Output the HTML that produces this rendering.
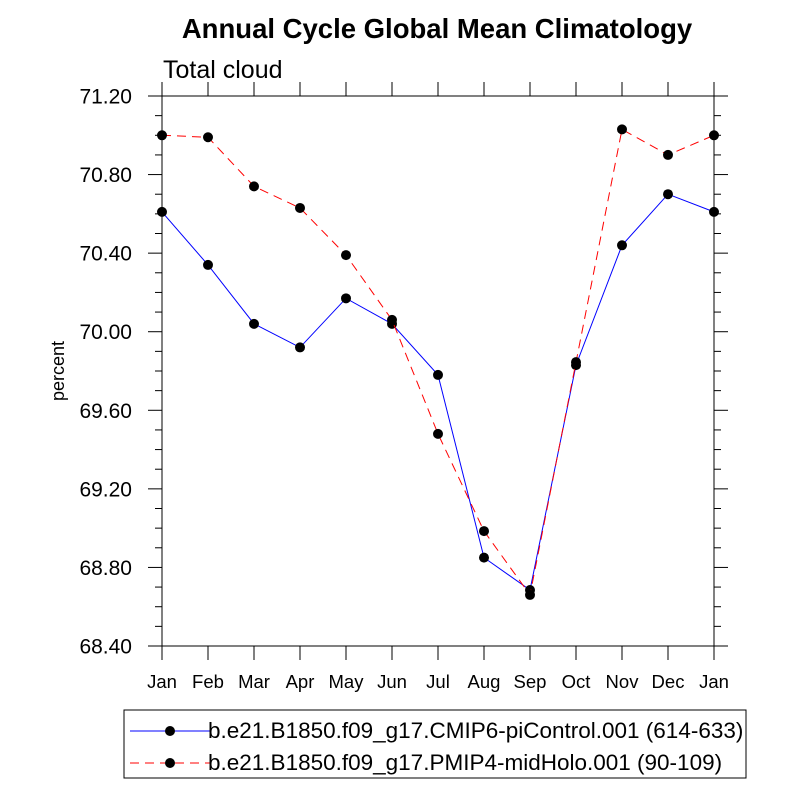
<!DOCTYPE html>
<html><head><meta charset="utf-8"><style>
body{margin:0;background:#fff;}
svg{display:block;font-family:"Liberation Sans",sans-serif;}
</style></head><body>
<svg id="chart" width="800" height="800">
<text x="437" y="38" text-anchor="middle" font-size="27.5" font-weight="bold">Annual Cycle Global Mean Climatology</text>
<text x="163" y="78" font-size="25">Total cloud</text>
<text transform="translate(64,371) rotate(-90)" text-anchor="middle" font-size="18">percent</text>
<g id="axes"></g>
<g id="series"></g>
<g>
<rect x="124" y="710" width="622" height="68" fill="none" stroke="#000" stroke-width="1"/>
<g>
<line x1="130" y1="731" x2="210" y2="731" stroke="#00f" stroke-width="1"/>
<circle cx="170" cy="731" r="5" fill="#000"/>
<text x="208" y="738" font-size="22.5">b.e21.B1850.f09_g17.CMIP6-piControl.001 (614-633)</text>
</g>
<g>
<line x1="130" y1="763" x2="210" y2="763" stroke="#f00" stroke-width="1" stroke-dasharray="9,6"/>
<circle cx="170" cy="763" r="5" fill="#000"/>
<text x="208" y="770" font-size="22.5">b.e21.B1850.f09_g17.PMIP4-midHolo.001 (90-109)</text>
</g>
</g>
</svg>
<script>
const months = ["Jan","Feb","Mar","Apr","May","Jun","Jul","Aug","Sep","Oct","Nov","Dec","Jan"];
const piControl = [70.61,70.34,70.04,69.92,70.17,70.04,69.78,68.85,68.685,69.83,70.44,70.70,70.61];
const midHolo = [71.00,70.99,70.74,70.63,70.39,70.06,69.48,68.985,68.66,69.845,71.03,70.90,71.00];
const yTicks = [68.40,68.80,69.20,69.60,70.00,70.40,70.80,71.20];

const L=162,R=714,T=96,B=646,yMin=68.4,yMax=71.2;
const NS="http://www.w3.org/2000/svg";
const xs=i=>L+(R-L)*i/(months.length-1);
const ys=v=>B-(v-yMin)/(yMax-yMin)*(B-T);
function mk(tag,attrs,parent){const e=document.createElementNS(NS,tag);for(const k in attrs)e.setAttribute(k,attrs[k]);parent.appendChild(e);return e;}
const ax=document.getElementById('axes');
const frame=mk('rect',{x:L,y:T,width:R-L,height:B-T,fill:'none',stroke:'#000','stroke-width':1},ax);


months.forEach((m,i)=>{
  const x=xs(i);
  mk('line',{x1:x,y1:B,x2:x,y2:B+14,stroke:'#000'},ax);
  mk('line',{x1:x,y1:T,x2:x,y2:T-14,stroke:'#000'},ax);
  const t=mk('text',{x:x,y:B+42,'text-anchor':'middle','font-size':18.5},ax);
  t.textContent=m;
  
  
});
for(let k=0;k<=28;k++){
  const v=yMin+k*0.1,y=ys(v),major=k%4===0,len=major?14:7;
  mk('line',{x1:L,y1:y,x2:L-len,y2:y,stroke:'#000'},ax);
  mk('line',{x1:R,y1:y,x2:R+len,y2:y,stroke:'#000'},ax);
}
yTicks.forEach(v=>{
  const t=mk('text',{x:132,y:ys(v)+7.5,'text-anchor':'end','font-size':21},ax);
  t.textContent=v.toFixed(2);
  
  
});
const sg=document.getElementById('series');
function draw(vals,color,dash,name){
  const g=mk('g',{},sg);
  
  
  const p=mk('polyline',{points:vals.map((v,i)=>xs(i)+','+ys(v)).join(' '),fill:'none',stroke:color,'stroke-width':1},g);
  if(dash)p.setAttribute('stroke-dasharray',dash);
  vals.forEach((v,i)=>{
    const c=mk('circle',{cx:xs(i),cy:ys(v),r:5,fill:'#000'},g);
    
    
  });
}
draw(piControl,'#00f',null,'series-picontrol');
draw(midHolo,'#f00','9,6','series-midholo');
</script>
</body></html>
